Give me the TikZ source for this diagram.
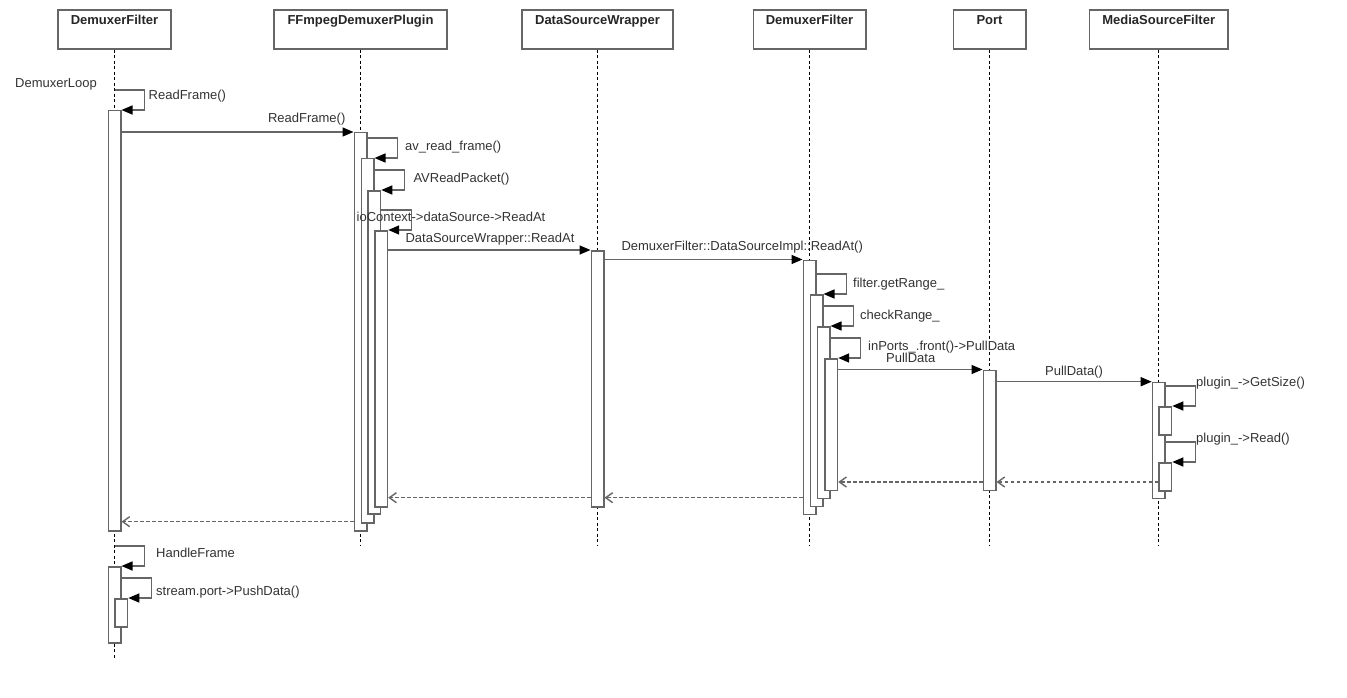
\documentclass[tikz,border=0pt]{standalone}
\usepackage{fontspec}
\setmainfont{Liberation Sans}
\setsansfont{Liberation Sans}
\usepackage{tikz}
\usetikzlibrary{arrows.meta}

\begin{document}
\begin{tikzpicture}[
  x=1pt, y=-1pt,
  font=\sffamily\fontsize{13}{15}\selectfont,
  hdbox/.style={rectangle, draw=black!60, fill=white, line width=1.5pt,
                minimum height=39pt, inner sep=0pt},
  hdtxt/.style={anchor=north, yshift=-6pt, inner sep=0pt, text=black!85,
                font=\sffamily\bfseries\fontsize{13}{15}\selectfont},
  actbar/.style={rectangle, draw=black!60, fill=white, line width=1.5pt,
                 minimum width=12.5pt, inner sep=0pt, anchor=north},
  life/.style={draw=black, line width=0.9pt, dash pattern=on 3pt off 2.5pt},
  call/.style={-{Triangle[length=11pt,width=9pt,color=black]}, draw=black!60,
               line width=1.5pt},
  reply/.style={-{Straight Barb[length=7pt,width=10pt]}, draw=black!60,
                line width=1.4pt, dash pattern=on 3.5pt off 2.5pt},
  lbl/.style={inner sep=0pt, text=black!80, text height=9.3pt, text depth=2.7pt},
]

% --- fixed bounding box (white background) ---
\fill[white] (0,0) rectangle (1347,698);

% ============================ HEADS =================================
\node[hdbox, minimum width=113pt]   (hdDemux)  at (114.5,29.5)  {};
\node[hdbox, minimum width=173pt]   (hdFfmpeg) at (360.5,29.5)  {};
\node[hdbox, minimum width=151pt]   (hdDsw)    at (597.5,29.5)  {};
\node[hdbox, minimum width=112.5pt] (hdDf)     at (809.5,29.5)  {};
\node[hdbox, minimum width=72.5pt]  (hdPort)   at (989.5,29.5)  {};
\node[hdbox, minimum width=138.5pt] (hdMsf)    at (1158.7,29.5) {};

\node[hdtxt] (tDemux)  at (hdDemux.north)  {DemuxerFilter};
\node[hdtxt] (tFfmpeg) at (hdFfmpeg.north) {FFmpegDemuxerPlugin};
\node[hdtxt] (tDsw)    at (hdDsw.north)    {DataSourceWrapper};
\node[hdtxt] (tDf)     at (hdDf.north)     {DemuxerFilter};
\node[hdtxt] (tPort)   at (hdPort.north)   {Port};
\node[hdtxt] (tMsf)    at (hdMsf.north)    {MediaSourceFilter};

% --- lifelines ---
\draw[life] (hdDemux.south)  -- (hdDemux.south |- 0,658);
\draw[life] (hdFfmpeg.south) -- (hdFfmpeg.south |- 0,546);
\draw[life] (hdDsw.south)    -- (hdDsw.south |- 0,546);
\draw[life] (hdDf.south)     -- (hdDf.south |- 0,546);
\draw[life] (hdPort.south)   -- (hdPort.south |- 0,546);
\draw[life] (hdMsf.south)    -- (hdMsf.south |- 0,546);

% ============================ BARS ==================================
% DemuxerFilter
\node[actbar, minimum height=420pt] (dmA) at (114.5,110) {};
\node[actbar, minimum height=76pt]  (dmB) at (114.5,566) {};
\node[actbar, minimum height=28pt]  (dmC) at (121.3,598) {};
% FFmpegDemuxerPlugin
\node[actbar, minimum height=398pt] (ffA) at (360.5,132) {};
\node[actbar, minimum height=364pt] (ffB) at (367.5,158) {};
\node[actbar, minimum height=323pt] (ffC) at (374.3,190) {};
\node[actbar, minimum height=276pt] (ffD) at (381.2,230) {};
% DataSourceWrapper
\node[actbar, minimum height=256pt] (dsA) at (597.5,250) {};
% DemuxerFilter (second)
\node[actbar, minimum height=254pt] (dfA) at (809.5,259.5) {};
\node[actbar, minimum height=211.5pt] (dfB) at (816.5,294) {};
\node[actbar, minimum height=171.5pt] (dfC) at (823.5,326) {};
\node[actbar, minimum height=131.5pt] (dfD) at (831.2,358) {};
% Port
\node[actbar, minimum height=120pt] (ptA) at (989.5,369.5) {};
% MediaSourceFilter
\node[actbar, minimum height=116pt] (msA) at (1158.7,381.7) {};
\node[actbar, minimum height=28pt]  (msB) at (1165.3,406) {};
\node[actbar, minimum height=28pt]  (msC) at (1165.3,462) {};

% ============================ CALLS =================================
\draw[call] (hdDemux.south |- 0,90) -- ++(30,0) |- (dmA.north east);
\draw[call] (dmA.east |- ffA.north) -- (ffA.north west);
\draw[call] (ffA.east |- 0,138) -- ++(30,0) |- (ffB.north east);
\draw[call] (ffB.east |- 0,170) -- ++(30,0) |- (ffC.north east);
\draw[call] (ffC.east |- 0,210) -- ++(30,0) |- (ffD.north east);
\draw[call] (ffD.east |- dsA.north) -- (dsA.north west);
\draw[call] (dsA.east |- dfA.north) -- (dfA.north west);
\draw[call] (dfA.east |- 0,274) -- ++(30,0) |- (dfB.north east);
\draw[call] (dfB.east |- 0,306) -- ++(30,0) |- (dfC.north east);
\draw[call] (dfC.east |- 0,338) -- ++(30,0) |- (dfD.north east);
\draw[call] (dfD.east |- ptA.north) -- (ptA.north west);
\draw[call] (ptA.east |- msA.north) -- (msA.north west);
\draw[call] (msA.east |- 0,386) -- ++(30,0) |- (msB.north east);
\draw[call] (msA.east |- 0,442) -- ++(30,0) |- (msC.north east);
\draw[call] (dmA.south |- 0,546) -- ++(30,0) |- (dmB.north east);
\draw[call] (dmB.east |- 0,578) -- ++(30,0) |- (dmC.north east);

% ============================ REPLIES ===============================
\draw[reply] (msC.west |- 0,482)   -- (ptA.east |- 0,482);
\draw[reply] (ptA.west |- 0,482)   -- (dfD.east |- 0,482);
\draw[reply] (dfA.west |- 0,497.7) -- (dsA.east |- 0,497.7);
\draw[reply] (dsA.west |- 0,497.7) -- (ffD.east |- 0,497.7);
\draw[reply] (ffA.west |- 0,521.7) -- (dmA.east |- 0,521.7);

% ============================ LABELS ================================
\node[lbl, anchor=west] (lLoop) at (15,84.5)    {DemuxerLoop};
\node[lbl, anchor=west] (lRf1)  at (148.5,96)   {ReadFrame()};
\node[lbl]              (lRf2)  at (306.7,119.5) {ReadFrame()};
\node[lbl, anchor=west] (lAvr)  at (405,146.7)  {av\_read\_frame()};
\node[lbl, anchor=west] (lAvp)  at (413.3,179)  {AVReadPacket()};
\node[lbl]              (lIoc)  at (451,218.3)  {ioContext->dataSource->ReadAt};
\node[lbl]              (lDsw)  at (490,239)    {DataSourceWrapper::ReadAt};
\node[lbl]              (lDsi)  at (742.2,247)  {DemuxerFilter::DataSourceImpl::ReadAt()};
\node[lbl, anchor=west] (lGet)  at (853,284)    {filter.getRange\_};
\node[lbl, anchor=west] (lChk)  at (860,316)    {checkRange\_};
\node[lbl, anchor=west] (lInp)  at (868,346.7)  {inPorts\_.front()->PullData};
\node[lbl]              (lPd1)  at (910.7,359.3) {PullData};
\node[lbl]              (lPd2)  at (1074,371.7) {PullData()};
\node[lbl, anchor=west] (lGs)   at (1196,383.3) {plugin\_->GetSize()};
\node[lbl, anchor=west] (lRd)   at (1196,439.3) {plugin\_->Read()};
\node[lbl, anchor=west] (lHf)   at (156,554)    {HandleFrame};
\node[lbl, anchor=west] (lPush) at (156,591.7)  {stream.port->PushData()};

\end{tikzpicture}
\end{document}
